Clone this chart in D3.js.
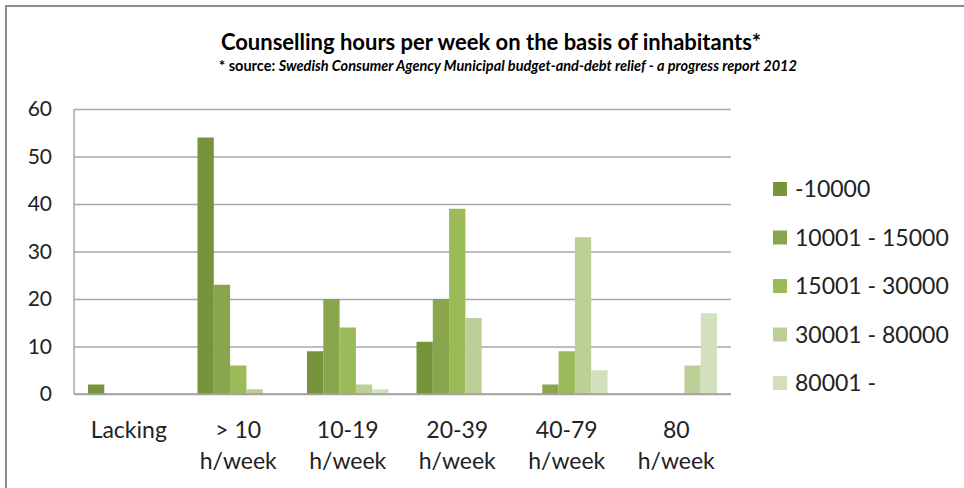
<!DOCTYPE html>
<html>
<head>
<meta charset="utf-8">
<title>Counselling hours per week</title>
<script src="https://d3js.org/d3.v7.min.js"></script>
<style>
  body { margin: 0; background: white; }
  svg { display: block; font-family: Lato, "Open Sans", sans-serif; }
  .grid line { stroke: #a9a9a9; stroke-width: 1.5; }
  .grid path { display: none; }
</style>
</head>
<body>
<div id="chart"></div>
<script>
// categories on the x axis (two lines each)
const categories = ["Lacking", "> 10|h/week", "10-19|h/week", "20-39|h/week", "40-79|h/week", "80|h/week"];
// series = inhabitant size classes
const seriesNames = ["-10000", "10001 - 15000", "15001 - 30000", "30001 - 80000", "80001 -"];
const colors = ["#77933c", "#8aa64c", "#9bbb59", "#bbcf96", "#d3e0bc"];
// one array per series, values per category
const s10000 = [2, 54, 9, 11, 0, 0];
const s15000 = [0, 23, 20, 20, 2, 0];
const s30000 = [0, 6, 14, 39, 9, 0];
const s80000 = [0, 1, 2, 16, 33, 6];
const s80001 = [0, 0, 1, 0, 5, 17];
const yTicks = [0, 10, 20, 30, 40, 50, 60];

const allSeries = [s10000, s15000, s30000, s80000, s80001];

const W = 964, H = 488;
const svg = d3.select("#chart").append("svg").attr("width", W).attr("height", H);

// outer frame (only top and left edges visible in the original)
svg.append("path")
  .attr("d", "M6,488 V6 H964")
  .attr("fill", "none").attr("stroke", "#8c8c8c").attr("stroke-width", 2);

// titles
svg.append("text").attr("x", 491).attr("y", 50)
  .attr("text-anchor", "middle").attr("font-weight", "bold").attr("font-size", 22)
  .attr("fill", "#000")
  .text("Counselling hours per week on the basis of inhabitants*");

const sub = svg.append("text").attr("x", 508).attr("y", 71)
  .attr("text-anchor", "middle").attr("font-weight", "bold").attr("font-size", 14.5)
  .attr("fill", "#000");
sub.append("tspan").text("* source: ");
sub.append("tspan").attr("font-style", "italic")
  .text("Swedish Consumer Agency Municipal budget-and-debt relief - a progress report 2012");

// plot area
const pLeft = 74, pRight = 731, pTop = 109, pBottom = 394;

const x = d3.scaleBand().domain(d3.range(categories.length)).range([pLeft, pRight]).padding(0);
const xs = d3.scaleBand().domain(d3.range(seriesNames.length))
  .range([14, x.bandwidth() - 14]).padding(0);
const y = d3.scaleLinear().domain([0, 60]).range([pBottom, pTop]);

// horizontal gridlines
svg.append("g").attr("class", "grid")
  .attr("transform", `translate(${pLeft},0)`)
  .call(d3.axisLeft(y).tickValues(yTicks).tickSize(-(pRight - pLeft)).tickFormat(""));

// left border of the plot area
svg.append("line").attr("x1", pLeft).attr("x2", pLeft).attr("y1", pTop).attr("y2", pBottom)
  .attr("stroke", "#a9a9a9").attr("stroke-width", 1.5);

// y tick labels
svg.append("g").selectAll("text").data(yTicks).join("text")
  .attr("x", 52).attr("y", d => y(d)).attr("dy", "0.35em")
  .attr("text-anchor", "end").attr("font-size", 21).attr("fill", "#222")
  .text(d => d);

// bars
allSeries.forEach((vals, si) => {
  svg.append("g").selectAll("rect").data(vals).join("rect")
    .attr("x", (d, i) => x(i) + xs(si))
    .attr("width", xs.bandwidth())
    .attr("y", d => y(d))
    .attr("height", d => y(0) - y(d))
    .attr("fill", colors[si]);
});

// baseline over the bars
svg.append("line").attr("x1", pLeft).attr("x2", pRight).attr("y1", y(0)).attr("y2", y(0))
  .attr("stroke", "#a0a0a0").attr("stroke-width", 1.5);

// x labels
const xl = svg.append("g").selectAll("text").data(categories).join("text")
  .attr("x", (d, i) => x(i) + x.bandwidth() / 2)
  .attr("y", 438)
  .attr("text-anchor", "middle").attr("font-size", 23).attr("fill", "#222");
xl.each(function (d) {
  const parts = d.split("|");
  const t = d3.select(this);
  parts.forEach((p, k) => {
    t.append("tspan").attr("x", t.attr("x")).attr("dy", k === 0 ? 0 : 31).text(p);
  });
});

// legend
const lg = svg.append("g").selectAll("g").data(seriesNames).join("g")
  .attr("transform", (d, i) => `translate(773,${189 + i * 48.5})`);
lg.append("rect").attr("x", 0).attr("y", -7).attr("width", 14).attr("height", 14)
  .attr("fill", (d, i) => colors[i]);
lg.append("text").attr("x", 22).attr("dy", "0.36em").attr("font-size", 23)
  .attr("fill", "#222").text(d => d);
</script>
</body>
</html>
